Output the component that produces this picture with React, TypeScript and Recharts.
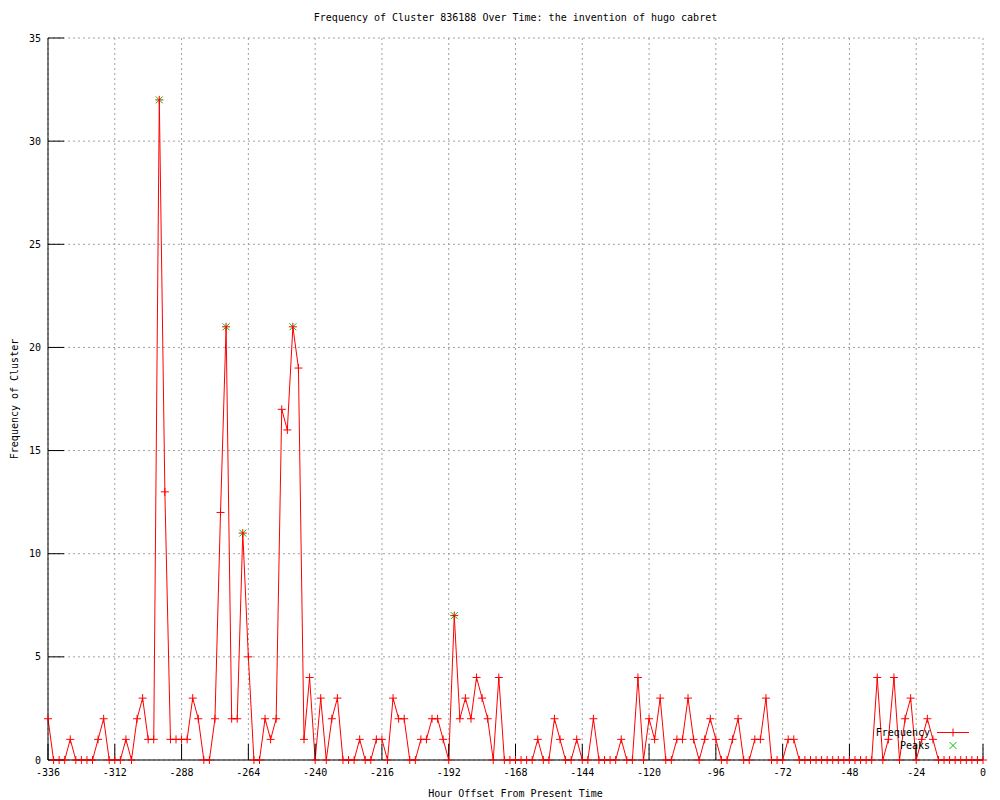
import { ComposedChart, Line, Scatter, XAxis, YAxis, CartesianGrid, Legend } from "recharts";

const START_HOUR = -336;
const STEP_HOURS = 2;

// counts per 2-hour bucket, from -336h to 0h
const frequency = [
  2, 0, 0, 0, 1, 0, 0, 0, 0, 1,
  2, 0, 0, 0, 1, 0, 2, 3, 1, 1,
  32, 13, 1, 1, 1, 1, 3, 2, 0, 0,
  2, 12, 21, 2, 2, 11, 5, 0, 0, 2,
  1, 2, 17, 16, 21, 19, 1, 4, 0, 3,
  0, 2, 3, 0, 0, 0, 1, 0, 0, 1,
  1, 0, 3, 2, 2, 0, 0, 1, 1, 2,
  2, 1, 0, 7, 2, 3, 2, 4, 3, 2,
  0, 4, 0, 0, 0, 0, 0, 0, 1, 0,
  0, 2, 1, 0, 0, 1, 0, 0, 2, 0,
  0, 0, 0, 1, 0, 0, 4, 0, 2, 1,
  3, 0, 0, 1, 1, 3, 1, 0, 1, 2,
  1, 0, 0, 1, 2, 0, 0, 1, 1, 3,
  0, 0, 0, 1, 1, 0, 0, 0, 0, 0,
  0, 0, 0, 0, 0, 0, 0, 0, 0, 4,
  0, 1, 4, 0, 2, 3, 0, 1, 2, 1,
  0, 0, 0, 0, 0, 0, 0, 0, 0,
];

const peakHours = [-296, -272, -266, -248, -190];
const peakCounts = [32, 21, 11, 21, 7];

const xTicks = [-336, -312, -288, -264, -240, -216, -192, -168, -144, -120, -96, -72, -48, -24, 0];
const yTicks = [0, 5, 10, 15, 20, 25, 30, 35];

const series = frequency.map((count, i) => ({ hour: START_HOUR + i * STEP_HOURS, count }));
const peaks = peakHours.map((hour, i) => ({ hour, count: peakCounts[i] }));

const FONT = "'DejaVu Sans Mono', monospace";
const RED = "#ff0000";
const GREEN = "#00c000";

const tickStyle = { fontSize: 10, fontFamily: FONT, fill: "#000" };

const renderPlus = (p: any) => (
  <path
    key={`plus-${p.index}`}
    d={`M${p.cx - 4},${p.cy}H${p.cx + 4}M${p.cx},${p.cy - 4}V${p.cy + 4}`}
    stroke={RED}
    strokeWidth={1}
    fill="none"
  />
);

const renderCross = (p: any) => (
  <path
    d={`M${p.cx - 3.5},${p.cy - 3.5}L${p.cx + 3.5},${p.cy + 3.5}M${p.cx - 3.5},${p.cy + 3.5}L${p.cx + 3.5},${p.cy - 3.5}`}
    stroke={GREEN}
    strokeWidth={1}
    fill="none"
  />
);

const noTick = () => <g />;

function LegendBox() {
  const row = { display: "flex", alignItems: "center", height: 13 };
  const label = { width: 70, textAlign: "right" as const, paddingRight: 6 };
  return (
    <div style={{ fontFamily: FONT, fontSize: 10, color: "#000", lineHeight: "13px" }}>
      <div style={row}>
        <span style={label}>Frequency</span>
        <svg width={34} height={13}>
          <path d="M1,6.5H33M17,2.5V10.5" stroke={RED} strokeWidth={1} fill="none" />
        </svg>
      </div>
      <div style={row}>
        <span style={label}>Peaks</span>
        <svg width={34} height={13}>
          <path d="M13.5,3L20.5,10M13.5,10L20.5,3" stroke={GREEN} strokeWidth={1} fill="none" />
        </svg>
      </div>
    </div>
  );
}

export default function App() {
  return (
    <div style={{ position: "absolute", left: 0, top: 0, width: 1000, height: 800, background: "#fff" }}>
      <div
        style={{
          position: "absolute",
          top: 12,
          left: 48,
          width: 935,
          textAlign: "center",
          fontFamily: FONT,
          fontSize: 10,
          color: "#000",
        }}
      >
        Frequency of Cluster 836188 Over Time: the invention of hugo cabret
      </div>
      <ComposedChart width={1000} height={800} data={series} margin={{ top: 38, right: 17, bottom: 0, left: 0 }}>
        <CartesianGrid stroke="#a0a0a0" strokeDasharray="2 3" />
        <XAxis
          dataKey="hour"
          type="number"
          domain={[-336, 0]}
          ticks={xTicks}
          interval={0}
          height={40}
          tickSize={-16}
          tickMargin={25}
          tick={tickStyle}
          stroke="#000"
          label={{ value: "Hour Offset From Present Time", position: "insideBottom", offset: 3, style: tickStyle }}
        />
        <XAxis
          xAxisId="top"
          orientation="top"
          dataKey="hour"
          type="number"
          domain={[-336, 0]}
          ticks={xTicks}
          interval={0}
          height={0}
          tickSize={-16}
          tick={noTick}
          stroke="#000"
        />
        <YAxis
          type="number"
          domain={[0, 35]}
          ticks={yTicks}
          interval={0}
          width={48}
          tickSize={-16}
          tickMargin={23}
          tick={tickStyle}
          stroke="#000"
          label={{
            value: "Frequency of Cluster",
            angle: -90,
            position: "insideLeft",
            offset: 14,
            style: { ...tickStyle, textAnchor: "middle" },
          }}
        />
        <YAxis
          yAxisId="right"
          orientation="right"
          type="number"
          domain={[0, 35]}
          ticks={yTicks}
          interval={0}
          width={0}
          tickSize={-16}
          tick={noTick}
          stroke="#000"
        />
        <Line
          type="linear"
          dataKey="count"
          stroke={RED}
          strokeWidth={1}
          dot={renderPlus}
          activeDot={false}
          isAnimationActive={false}
        />
        <Scatter data={peaks} dataKey="count" shape={renderCross} isAnimationActive={false} />
        <Legend
          layout="horizontal"
          verticalAlign="middle"
          align="center"
          content={() => <LegendBox />}
          wrapperStyle={{ position: "absolute", left: 860, top: 726, width: 110, height: 26 }}
        />
      </ComposedChart>
    </div>
  );
}
